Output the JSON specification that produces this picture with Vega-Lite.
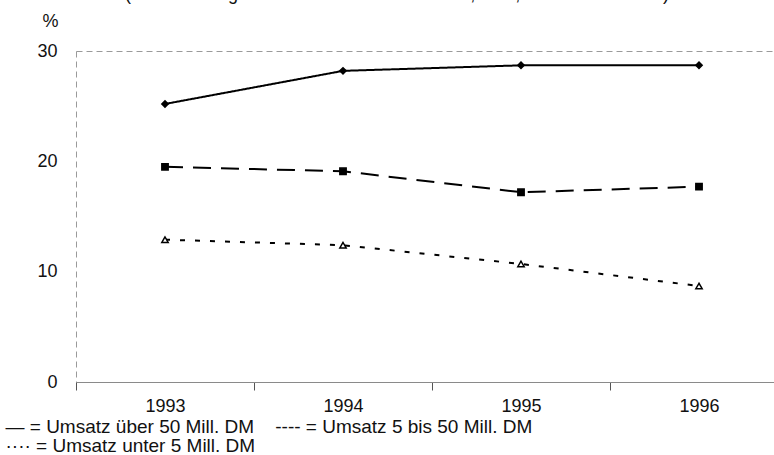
{
  "$schema": "https://vega.github.io/schema/vega-lite/v6.json",
  "autosize": "none",
  "width": 712,
  "height": 331,
  "padding": {"left": 76, "top": 51, "right": 0, "bottom": 73},
  "config": {
    "font": "Liberation Sans",
    "view": {"stroke": "#9a9a9a", "strokeDash": [6, 4], "strokeWidth": 1}
  },
  "title": {
    "text": "(Anteil der Eigenmittel an der Bilanzsumme, in %, Westdeutschland)",
    "fontSize": 18,
    "fontWeight": "normal",
    "color": "#111",
    "anchor": "middle",
    "baseline": "alphabetic",
    "offset": 6,
    "dx": -35,
    "dy": 12
  },
  "data": {
    "values": [
      {"series": "über 50", "year": "1993", "value": 25.2},
      {"series": "über 50", "year": "1994", "value": 28.2},
      {"series": "über 50", "year": "1995", "value": 28.7},
      {"series": "über 50", "year": "1996", "value": 28.7},
      {"series": "5 bis 50", "year": "1993", "value": 19.5},
      {"series": "5 bis 50", "year": "1994", "value": 19.1},
      {"series": "5 bis 50", "year": "1995", "value": 17.2},
      {"series": "5 bis 50", "year": "1996", "value": 17.7},
      {"series": "unter 5", "year": "1993", "value": 12.9},
      {"series": "unter 5", "year": "1994", "value": 12.4},
      {"series": "unter 5", "year": "1995", "value": 10.7},
      {"series": "unter 5", "year": "1996", "value": 8.7}
    ]
  },
  "encoding": {
    "x": {
      "field": "year",
      "type": "ordinal",
      "scale": {"type": "band", "paddingInner": 0, "paddingOuter": 0},
      "axis": {
        "tickBand": "extent",
        "labelAngle": 0,
        "labelFontSize": 18,
        "labelColor": "#111",
        "labelPadding": 7,
        "domainColor": "#8a8a8a",
        "tickColor": "#555",
        "tickSize": 8,
        "title": ["— = Umsatz über 50 Mill. DM\u00a0\u00a0\u00a0\u00a0---- = Umsatz 5 bis 50 Mill. DM", "···· = Umsatz unter 5 Mill. DM"],
        "titleFontSize": 19,
        "titleFontWeight": "normal",
        "titleColor": "#111",
        "titleAnchor": "start",
        "titleAlign": "left",
        "titleBaseline": "alphabetic",
        "titleLineHeight": 19,
        "titleX": -71,
        "titleY": 50
      }
    },
    "y": {
      "field": "value",
      "type": "quantitative",
      "scale": {"domain": [0, 30], "nice": false},
      "axis": {
        "values": [0, 10, 20, 30],
        "grid": false,
        "ticks": false,
        "domain": false,
        "labelFontSize": 18,
        "labelColor": "#111",
        "labelPadding": 19,
        "title": "%",
        "titleAngle": 0,
        "titleFontSize": 18,
        "titleFontWeight": "normal",
        "titleColor": "#111",
        "titleAlign": "center",
        "titleBaseline": "middle",
        "titleX": -26,
        "titleY": -30
      }
    }
  },
  "layer": [
    {
      "mark": {"type": "line", "color": "black", "strokeWidth": 2},
      "encoding": {
        "strokeDash": {
          "field": "series",
          "type": "nominal",
          "scale": {"domain": ["über 50", "5 bis 50", "unter 5"], "range": [[1, 0], [18, 10], [5, 10]]},
          "legend": null
        }
      }
    },
    {
      "mark": {"type": "point", "stroke": "black", "strokeWidth": 1.5, "opacity": 1},
      "encoding": {
        "shape": {
          "field": "series",
          "type": "nominal",
          "scale": {"domain": ["über 50", "5 bis 50", "unter 5"], "range": ["diamond", "square", "triangle-up"]},
          "legend": null
        },
        "fill": {
          "field": "series",
          "type": "nominal",
          "scale": {"domain": ["über 50", "5 bis 50", "unter 5"], "range": ["black", "black", "white"]},
          "legend": null
        },
        "size": {
          "field": "series",
          "type": "nominal",
          "scale": {"domain": ["über 50", "5 bis 50", "unter 5"], "range": [40, 40, 60]},
          "legend": null
        }
      }
    }
  ]
}
